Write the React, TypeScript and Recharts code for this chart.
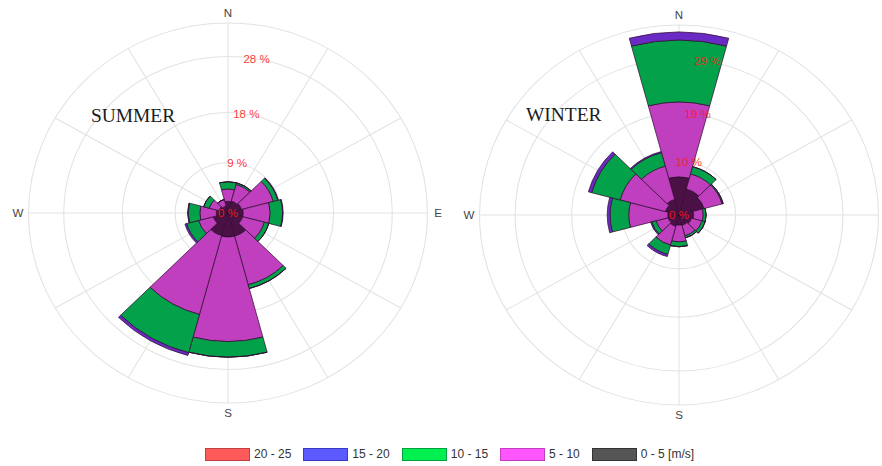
import { RadialBarChart, RadialBar, PolarGrid, PolarAngleAxis, PolarRadiusAxis } from "recharts";

// 12 sectors, clockwise from north
const directions = ["N", "30", "60", "E", "120", "150", "S", "210", "240", "W", "300", "330"];
const summerCompass = ["N", "E", "S", "W"];
const winterCompass = ["N", "S", "W"]; // E falls outside the picture

const speedBins = ["0 - 5 [m/s]", "5 - 10", "10 - 15", "15 - 20", "20 - 25"];
const binColors = ["#4b1146", "#c03fbf", "#03a24a", "#6a2bc4", "#e03a3a"];
const legendColors = ["#555555", "#ff55ff", "#00f050", "#5a5aff", "#ff5a5a"];
const legendBorders = ["#333333", "#c040c0", "#00a040", "#3a3ac0", "#c04040"];

// frequency (%) per speed bin, summer
const summer0to5 = [2.1, 2.2, 2.4, 2.6, 2.6, 4.3, 4.3, 4.2, 2.6, 2.0, 1.6, 1.3];
const summer5to10 = [2.2, 3.1, 5.6, 4.6, 3.8, 9.0, 18.7, 14.6, 2.6, 2.8, 1.7, 1.2];
const summer10to15 = [1.3, 0.3, 0.8, 2.1, 0.8, 0.7, 2.8, 7.1, 2.1, 2.0, 1.0, 0];
const summer15to20 = [0, 0, 0.1, 0.1, 0, 0, 0, 0.5, 0.3, 0.1, 0, 0];
const summer20to25 = [0, 0, 0, 0, 0, 0, 0, 0, 0, 0, 0, 0];

// frequency (%) per speed bin, winter
const winter0to5 = [7.1, 5.0, 4.6, 2.6, 2.3, 2.0, 1.9, 2.2, 2.0, 2.0, 2.5, 3.0];
const winter5to10 = [13.9, 2.9, 3.3, 1.7, 1.9, 2.0, 3.1, 3.6, 2.2, 6.9, 8.3, 6.4];
const winter10to15 = [11.5, 1.4, 0.2, 0.5, 0.6, 0.4, 0.9, 1.8, 0.8, 3.3, 5.2, 2.6];
const winter15to20 = [1.5, 0, 0, 0, 0, 0, 0, 0.4, 0.2, 0.5, 0.6, 0.2];
const winter20to25 = [0, 0, 0, 0, 0, 0, 0, 0, 0, 0, 0, 0];

const summerTicks = [0, 9, 18, 28];
const winterTicks = [0, 10, 19, 29];
const summerMax = 34;
const winterMax = 35.3;

const OUTER = 190;
const CX = 210;
const keys = ["b0", "b1", "b2", "b3", "b4"];

function buildRows(bins: number[][]) {
  return directions.map((dir, i) => {
    const row: any = { dir };
    keys.forEach((k, j) => (row[k] = bins[j][i]));
    return row;
  });
}

const summerData = buildRows([summer0to5, summer5to10, summer10to15, summer15to20, summer20to25]);
const winterData = buildRows([winter0to5, winter5to10, winter10to15, winter15to20, winter20to25]);

// angle ticks sit on the band edge, turn them half a sector back onto the sector centre
const makeDirTick = (cy: number, shown: string[]) => (props: any) => {
  const { x, y, payload } = props;
  if (!shown.includes(payload.value)) return <g />;
  const r = Math.hypot(x - CX, y - cy);
  const a = Math.atan2(cy - y, x - CX) + (15 * Math.PI) / 180;
  return (
    <text x={CX + r * Math.cos(a)} y={cy - r * Math.sin(a)} textAnchor="middle" dominantBaseline="central"
      fontSize={11} fill="#444" fontFamily="'Liberation Sans', Arial, sans-serif">
      {payload.value}
    </text>
  );
};

const PctTick = (props: any) => {
  const { x, y, payload } = props;
  return (
    <text x={x} y={y} textAnchor="middle" dominantBaseline="central" fontSize={11}
      fill="#ff1a1a" fillOpacity={0.9} fontFamily="'Liberation Sans', Arial, sans-serif">
      {`${payload.value} %`}
    </text>
  );
};

function Rose(props: any) {
  const { data, max, ticks, left, cy, title, titleX, titleTop, compass } = props;
  const rings = [...ticks.filter((t: number) => t > 0), max].map((v: number) => (v / max) * OUTER);
  return (
    <div style={{ position: "absolute", left, top: 0, width: 420, height: 440,
      transform: "scaleX(1.05)", transformOrigin: `${CX}px ${cy}px` }}>
      <RadialBarChart width={420} height={440} cx={CX} cy={cy} innerRadius={0} outerRadius={OUTER}
        data={data} layout="centric" startAngle={75} endAngle={-285} barCategoryGap={0} barGap={0}>
        <PolarGrid gridType="circle" polarAngles={[0, 30, 60, 90, 120, 150, 180, 210, 240, 270, 300, 330]}
          polarRadius={rings} stroke="#e2e2e2" />
        {keys.map((k, j) => (
          <RadialBar key={k} dataKey={k} stackId="a" fill={binColors[j]}
            stroke={j === 4 ? "none" : "#2e0a2e"} strokeWidth={0.7} isAnimationActive={false} />
        ))}
        <PolarAngleAxis type="category" dataKey="dir" tick={makeDirTick(cy, compass)} tickLine={false} axisLine={false} tickSize={10} />
        <PolarRadiusAxis type="number" domain={[0, max]} ticks={ticks} angle={80} axisLine={false}
          tick={PctTick} tickLine={false} />
      </RadialBarChart>
      <div style={{ position: "absolute", left: titleX, top: titleTop, fontFamily: "'Liberation Serif', 'Times New Roman', serif",
        fontSize: 18.5, lineHeight: 1, color: "#1c1c1c", whiteSpace: "nowrap" }}>
        {title}
      </div>
    </div>
  );
}

export default function App() {
  const legendOrder = [4, 3, 2, 1, 0];
  return (
    <div style={{ position: "absolute", left: 0, top: 0, width: 882, height: 466, overflow: "hidden", background: "#fff" }}>
      <Rose data={summerData} max={summerMax} ticks={summerTicks} left={18} cy={213} compass={summerCompass}
        title="SUMMER" titleX={79.5} titleTop={106.5} />
      <Rose data={winterData} max={winterMax} ticks={winterTicks} left={469} cy={215} compass={winterCompass}
        title="WINTER" titleX={64.3} titleTop={105.5} />
      <div style={{ position: "absolute", left: 205, top: 447, display: "flex", alignItems: "center",
        fontFamily: "'Liberation Sans', Arial, sans-serif", fontSize: 12, color: "#333" }}>
        {legendOrder.map((j) => (
          <div key={j} style={{ display: "flex", alignItems: "center", marginRight: 12 }}>
            <div style={{ width: 43, height: 11, background: legendColors[j], border: `1px solid ${legendBorders[j]}`, marginRight: 4 }} />
            <span>{speedBins[j]}</span>
          </div>
        ))}
      </div>
    </div>
  );
}
